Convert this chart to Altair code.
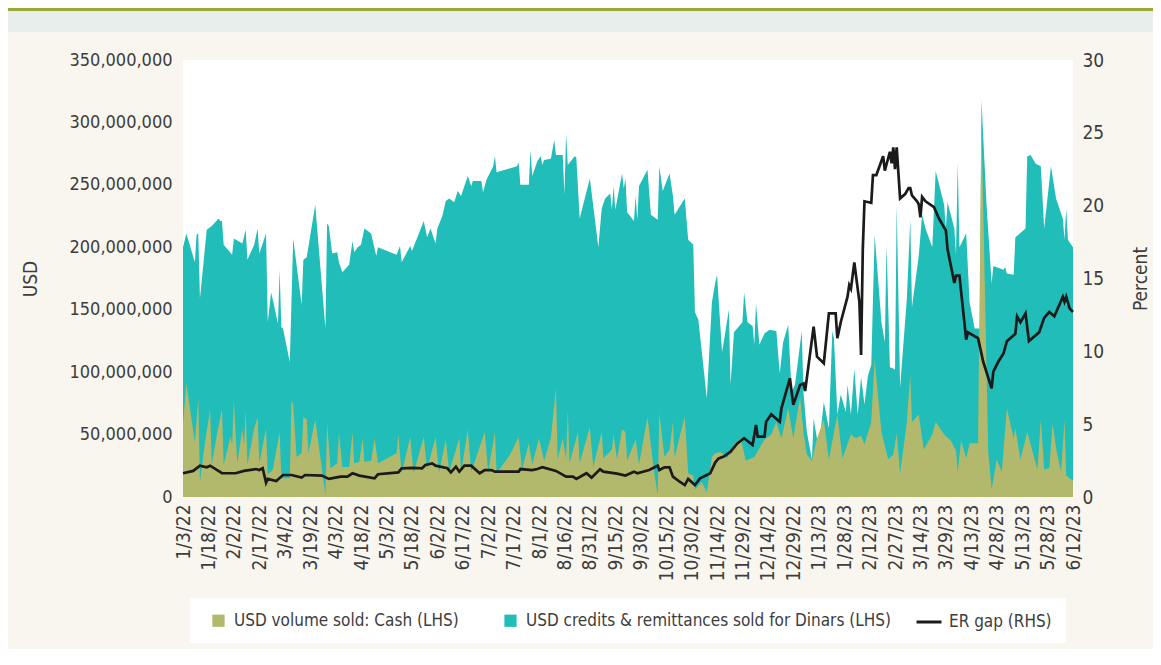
import altair as alt
import pandas as pd

# ---------------- data ----------------
tick_labels = ["1/3/22", "1/18/22", "2/2/22", "2/17/22", "3/4/22", "3/19/22", "4/3/22", "4/18/22",
               "5/3/22", "5/18/22", "6/2/22", "6/17/22", "7/2/22", "7/17/22", "8/1/22", "8/16/22",
               "8/31/22", "9/15/22", "9/30/22", "10/15/22", "10/30/22", "11/14/22", "11/29/22",
               "12/14/22", "12/29/22", "1/13/23", "1/28/23", "2/12/23", "2/27/23", "3/14/23",
               "3/29/23", "4/13/23", "4/28/23", "5/13/23", "5/28/23", "6/12/23"]

# top of the stacked teal band (cash + credits), million USD, by day offset from 1/3/22
total_days = [0, 2, 7, 8, 9, 10, 14, 17, 21, 22, 23, 24, 29, 30, 35, 37, 38, 42, 44, 45, 49, 50, 52, 56, 57,
              58, 59, 63, 65, 70, 71, 73, 78, 84, 85, 86, 88, 91, 92, 94, 98, 100, 101, 103, 105, 107, 111,
              114, 115, 126, 128, 129, 134, 135, 138, 142, 144, 146, 149, 150, 153, 155, 157, 160, 162, 164,
              168, 170, 171, 176, 177, 179, 183, 184, 185, 197, 198, 199, 204, 205, 206, 209, 211, 212, 213,
              217, 219, 220, 224, 225, 226, 227, 231, 232, 234, 240, 245, 247, 249, 252, 253, 254, 255, 259,
              260, 261, 262, 266, 267, 268, 269, 274, 276, 280, 281, 283, 287, 289, 290, 296, 298, 301, 302,
              304, 309, 312, 314, 315, 318, 322, 323, 325, 330, 331, 333, 336, 337, 338, 340, 343, 346, 350,
              352, 354, 357, 359, 361, 365, 366, 368, 371, 372, 375, 378, 381, 383, 384, 386, 388, 391, 392,
              394, 396, 398, 400, 402, 404, 406, 408, 412, 414, 415, 417, 419, 420, 421, 423, 427, 429, 430,
              434, 436, 438, 442, 444, 449, 450, 451, 455, 456, 457, 458, 462, 464, 467, 470, 471, 474, 477,
              478, 484, 485, 486, 490, 491, 497, 498, 500, 503, 506, 508, 512, 515, 519, 520, 521, 522, 525]
total_usd_m = [200, 211, 188, 210, 211, 159, 214, 217, 223, 221, 221, 202, 194, 207, 203, 214, 190, 202, 215,
               195, 211, 140, 164, 139, 182, 136, 135, 108, 207, 154, 190, 192, 234, 135, 219, 217, 195, 196,
               188, 180, 186, 205, 196, 200, 202, 215, 211, 193, 200, 194, 201, 188, 201, 197, 207, 221, 208,
               215, 203, 215, 225, 237, 239, 236, 245, 241, 257, 249, 253, 253, 244, 254, 265, 273, 260, 265,
               268, 250, 250, 278, 257, 269, 273, 266, 270, 271, 286, 274, 274, 242, 291, 266, 273, 272, 223,
               255, 200, 231, 239, 243, 230, 249, 230, 259, 247, 255, 228, 221, 241, 222, 249, 262, 226, 222,
               265, 245, 259, 241, 226, 239, 206, 202, 148, 142, 79, 156, 172, 178, 116, 150, 90, 132, 140,
               164, 140, 137, 122, 155, 122, 131, 134, 133, 99, 124, 138, 84, 90, 133, 84, 52, 30, 63, 38,
               76, 55, 133, 127, 66, 82, 68, 90, 66, 103, 66, 96, 74, 97, 106, 210, 140, 124, 202, 104, 103,
               102, 234, 88, 159, 222, 152, 193, 226, 215, 200, 261, 234, 215, 236, 215, 194, 268, 200, 211,
               156, 135, 135, 318, 234, 171, 185, 182, 184, 179, 178, 208, 215, 273, 274, 267, 265, 215, 265,
               239, 223, 206, 231, 206, 200]

# USD volume sold: cash, million USD
cash_days = [0, 2, 7, 9, 10, 13, 16, 17, 20, 23, 24, 28, 29, 30, 32, 35, 36, 37, 38, 42, 44, 45, 49, 50, 53,
             57, 58, 63, 64, 65, 67, 70, 71, 73, 74, 78, 84, 85, 87, 91, 92, 94, 98, 100, 101, 104, 106, 107,
             111, 113, 115, 126, 127, 129, 134, 136, 142, 144, 149, 151, 155, 157, 163, 164, 168, 170, 178,
             180, 184, 185, 193, 198, 200, 204, 206, 210, 213, 217, 220, 221, 224, 226, 227, 228, 231, 233,
             234, 240, 242, 247, 248, 253, 254, 256, 259, 261, 262, 267, 269, 274, 278, 280, 281, 284, 287,
             289, 290, 296, 298, 301, 302, 306, 309, 312, 314, 317, 321, 325, 329, 332, 337, 343, 347, 350,
             353, 357, 360, 364, 366, 368, 371, 374, 378, 381, 386, 389, 394, 397, 400, 402, 406, 408, 412,
             416, 419, 421, 423, 427, 429, 430, 434, 437, 442, 444, 449, 453, 456, 457, 459, 462, 464, 469,
             471, 475, 477, 480, 483, 486, 490, 491, 494, 498, 504, 506, 508, 511, 513, 515, 518, 520, 521, 525]
cash_usd_m = [58, 91, 44, 79, 12, 44, 70, 26, 50, 70, 26, 48, 42, 78, 27, 54, 42, 70, 26, 55, 64, 27, 55, 18,
              22, 52, 15, 15, 77, 74, 32, 35, 64, 62, 35, 62, 2, 59, 23, 27, 51, 24, 24, 52, 27, 28, 47, 28,
              29, 47, 27, 35, 50, 19, 48, 19, 48, 22, 48, 19, 46, 20, 47, 19, 54, 20, 52, 20, 52, 19, 34, 48,
              22, 43, 26, 47, 29, 47, 87, 30, 47, 30, 70, 27, 42, 52, 27, 56, 24, 52, 31, 38, 50, 30, 54, 52,
              29, 46, 26, 64, 19, 2, 67, 32, 38, 60, 32, 64, 19, 17, 6, 12, 4, 32, 35, 36, 31, 42, 47, 29, 32,
              46, 50, 60, 47, 71, 47, 80, 52, 34, 29, 47, 62, 30, 66, 31, 50, 47, 49, 42, 60, 110, 52, 30, 34,
              51, 19, 60, 98, 60, 66, 38, 50, 60, 50, 45, 37, 20, 45, 31, 43, 43, 300, 36, 6, 30, 20, 71, 47,
              55, 30, 52, 22, 62, 22, 23, 59, 39, 20, 62, 17, 13]

# ER gap, percent
gap_days = [0, 6, 10, 14, 16, 23, 31, 36, 43, 45, 47, 49, 50, 55, 59, 64, 70, 72, 82, 86, 93, 97, 100, 104,
            113, 115, 127, 129, 136, 141, 143, 147, 149, 156, 158, 161, 163, 166, 170, 175, 178, 182, 184,
            198, 199, 206, 209, 212, 220, 226, 230, 232, 238, 241, 246, 248, 256, 261, 266, 268, 275, 280,
            281, 284, 287, 289, 293, 296, 298, 302, 305, 309, 311, 314, 316, 319, 323, 327, 331, 336, 338,
            339, 343, 344, 347, 352, 353, 358, 360, 364, 366, 367, 372, 374, 378, 381, 385, 386, 388, 392,
            393, 394, 396, 399, 400, 401, 402, 406, 407, 409, 413, 414, 417, 418, 419, 420, 421, 423, 426,
            428, 429, 430, 433, 434, 435, 436, 438, 443, 446, 450, 451, 455, 456, 458, 462, 463, 469, 472,
            477, 478, 481, 484, 486, 491, 492, 494, 497, 499, 505, 508, 511, 514, 519, 520, 521, 523, 525]
gap_pct = [1.63, 1.79, 2.15, 2.04, 2.15, 1.63, 1.63, 1.79, 1.92, 1.85, 1.97, 0.98, 1.24, 1.10, 1.51, 1.51,
           1.33, 1.51, 1.47, 1.24, 1.40, 1.40, 1.63, 1.47, 1.28, 1.56, 1.69, 1.97, 2.0, 1.97, 2.20, 2.31,
           2.15, 1.97, 1.69, 2.08, 1.74, 2.15, 2.15, 1.63, 1.85, 1.85, 1.74, 1.74, 1.92, 1.85, 1.92, 2.04,
           1.79, 1.40, 1.40, 1.24, 1.63, 1.33, 1.90, 1.74, 1.60, 1.47, 1.74, 1.63, 1.85, 2.15, 1.85, 2.04,
           2.04, 1.40, 1.05, 0.82, 1.24, 0.82, 1.28, 1.51, 1.63, 2.38, 2.65, 2.77, 3.11, 3.68, 4.03, 3.57,
           4.94, 4.14, 4.14, 5.17, 5.68, 5.17, 6.09, 8.15, 6.32, 7.69, 7.8, 7.28, 11.7, 9.63, 9.18, 12.6,
           12.6, 10.9, 12.0, 13.75, 14.55, 14.3, 16.1, 13.4, 9.75, 17.0, 20.3, 20.2, 22.1, 22.1, 23.4, 22.4,
           23.7, 22.9, 24.0, 22.5, 24.0, 20.5, 20.8, 21.2, 21.2, 20.7, 20.3, 20.1, 19.2, 20.6, 20.3, 19.9,
           19.1, 18.3, 17.0, 14.7, 15.2, 15.2, 10.8, 11.3, 10.9, 9.3, 7.46, 8.6, 9.3, 9.86, 10.7, 11.2,
           12.4, 12.0, 12.6, 10.7, 11.3, 12.3, 12.7, 12.4, 13.75, 13.4, 13.75, 12.95, 12.7]

CASH = "USD volume sold: Cash (LHS)"
CRED = "USD credits & remittances sold for Dinars (LHS)"
GAP = "ER gap (RHS)"

# ---------------- styling ----------------
OLIVE = "#b3b96c"
TEAL = "#21bdb9"
LINE = "#1c1a1a"
BEIGE = "#f9f6ef"
TXT = "#3d3d3d"
FONT = "DejaVu Sans Condensed, Liberation Sans Narrow, sans-serif"

W, H = 890, 437

base = pd.Timestamp("2022-01-03")


def to_dates(days):
    return [(base + pd.Timedelta(days=d)).strftime("%Y-%m-%d") for d in days]


tick_ms = [int(pd.to_datetime(t, format="%m/%d/%y").value // 10**6) for t in tick_labels]

total_df = pd.DataFrame({"date": to_dates(total_days), "usd": [v * 1e6 for v in total_usd_m], "series": CRED})
cash_df = pd.DataFrame({"date": to_dates(cash_days), "usd": [v * 1e6 for v in cash_usd_m], "series": CASH})
gap_df = pd.DataFrame({"date": to_dates(gap_days), "pct": gap_pct, "series": GAP})

x_enc = alt.X(
    "date:T",
    scale=alt.Scale(type="utc", domain=[tick_ms[0], tick_ms[-1]], nice=False),
    axis=alt.Axis(values=tick_ms, format="%-m/%-d/%y", labelAngle=270, title=None,
                  ticks=False, domain=False, grid=False, labelPadding=7,
                  labelFontSize=19, labelOverlap=False),
)

color_scale = alt.Scale(domain=[CASH, CRED], range=[OLIVE, TEAL])
color_legend = alt.Legend(title=None, orient="none", legendX=27, legendY=552, direction="horizontal",
                          symbolType="square", symbolSize=150, symbolStrokeWidth=0,
                          labelFontSize=17, labelOffset=7, labelLimit=0, columnPadding=43,
                          padding=0, zindex=2)

y_left = alt.Y(
    "usd:Q", stack=None,
    scale=alt.Scale(domain=[0, 350e6], nice=False),
    axis=alt.Axis(values=[i * 50e6 for i in range(8)], format=",d", title="USD",
                  titleAngle=270, titleX=-153, titleY=H / 2, titleAlign="center", titleBaseline="middle",
                  labelPadding=11, ticks=False, domain=False, grid=False, labelFontSize=18,
                  titleFontSize=19, titleFontWeight="normal"),
)

teal_area = alt.Chart(total_df).mark_area(interpolate="linear", opacity=1).encode(
    x=x_enc, y=y_left, color=alt.Color("series:N", scale=color_scale, legend=color_legend))
cash_area = alt.Chart(cash_df).mark_area(interpolate="linear", opacity=1).encode(
    x=x_enc, y=y_left, color=alt.Color("series:N", scale=color_scale, legend=color_legend))

gap_line = alt.Chart(gap_df).mark_line(strokeWidth=2.7, interpolate="linear").encode(
    x=x_enc,
    y=alt.Y("pct:Q", scale=alt.Scale(domain=[0, 30], nice=False),
            axis=alt.Axis(orient="right", values=[0, 5, 10, 15, 20, 25, 30], title="Percent",
                          titleAngle=270, titleX=67, titleY=H / 2, titleAlign="center",
                          titleBaseline="middle", labelPadding=9, ticks=False, domain=False,
                          grid=False, labelFontSize=19, titleFontSize=19, titleFontWeight="normal")),
    stroke=alt.Stroke("series:N", scale=alt.Scale(domain=[GAP], range=[LINE]),
                      legend=alt.Legend(title=None, orient="none", legendX=732, legendY=548,
                                        symbolType="stroke", symbolSize=625, symbolStrokeWidth=3,
                                        labelFontSize=17, labelOffset=6, labelLimit=0,
                                        padding=0, zindex=2)),
)

one = pd.DataFrame({"k": [0]})
top_band = alt.Chart(one).mark_rect(color="#e8eeec").encode(
    x=alt.value(-175), x2=alt.value(980), y=alt.value(-52), y2=alt.value(-28))
top_rule = alt.Chart(one).mark_rule(color="#9aa93a", strokeWidth=3).encode(
    x=alt.value(-175), x2=alt.value(980), y=alt.value(-50.5))
legend_box = alt.Chart(one).mark_rect(color="white").encode(
    x=alt.value(7), x2=alt.value(883), y=alt.value(538), y2=alt.value(583))

areas = alt.layer(teal_area, cash_area)
chart = alt.layer(top_band, top_rule, legend_box, areas, gap_line).resolve_scale(
    y="independent", color="independent"
).properties(
    width=W, height=H,
    padding={"left": 175, "top": 52, "right": 80, "bottom": 152},
    autosize=alt.AutoSizeParams(type="none"),
    background=BEIGE,
).configure_view(
    fill="white", stroke=None
).configure_axis(
    labelFont=FONT, titleFont=FONT, labelColor=TXT, titleColor=TXT
).configure_legend(
    labelFont=FONT, labelColor=TXT
)

chart.save("out.html", embed_options={"renderer": "svg", "actions": False})
